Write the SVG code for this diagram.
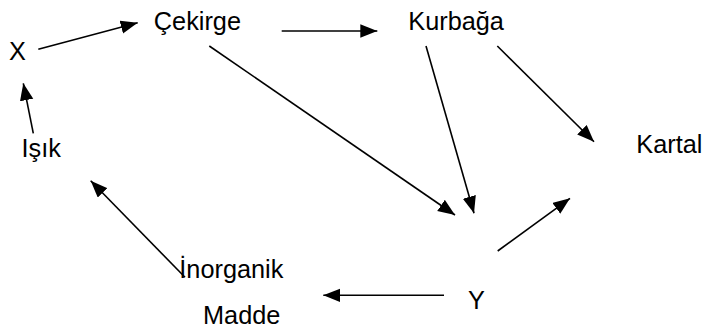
<svg xmlns="http://www.w3.org/2000/svg" width="705" height="331" viewBox="0 0 705 331">
<style>
text{font-family:"Liberation Sans",Arial,sans-serif;font-size:25.3px;fill:#000}
.c line{stroke:#000;stroke-width:1.6;fill:none}
</style>
<defs>
<marker id="ah" markerUnits="userSpaceOnUse" markerWidth="18" markerHeight="14" refX="17" refY="6.75" orient="auto">
<path d="M0,0 L17,6.75 L0,13.5 z" fill="#000"/>
</marker>
</defs>
<rect width="705" height="331" fill="#fff"/>
<g class="c" id="connectors">
<line x1="38.3" y1="49.3" x2="137.7" y2="22.7" marker-end="url(#ah)"/>
<line x1="33.3" y1="133.3" x2="23.3" y2="83.3" marker-end="url(#ah)"/>
<line x1="281.7" y1="31" x2="377.3" y2="31" marker-end="url(#ah)"/>
<line x1="209.3" y1="46" x2="455" y2="215" marker-end="url(#ah)"/>
<line x1="426" y1="46" x2="474" y2="213.3" marker-end="url(#ah)"/>
<line x1="497.3" y1="46" x2="594" y2="141.7" marker-end="url(#ah)"/>
<line x1="497.7" y1="251" x2="570" y2="198.3" marker-end="url(#ah)"/>
<line x1="444" y1="295.3" x2="323.3" y2="295.3" marker-end="url(#ah)"/>
<line x1="185" y1="277.3" x2="90.7" y2="180.7" marker-end="url(#ah)"/>
</g>
<g id="x"><text x="9" y="59.5">X</text></g>
<g id="cekirge"><text x="153.8" y="29.5">Çekirge</text></g>
<g id="kurbaga"><text x="408.3" y="29.5">Kurbağa</text></g>
<g id="kartal"><text x="636.3" y="152.7">Kartal</text></g>
<g id="isik"><text x="21.6" y="157.3">Işık</text></g>
<g id="inorganik"><text x="179.3" y="278.3">İnorganik</text><text x="203" y="324">Madde</text></g>
<g id="y"><text x="468" y="309.3">Y</text></g>
</svg>
